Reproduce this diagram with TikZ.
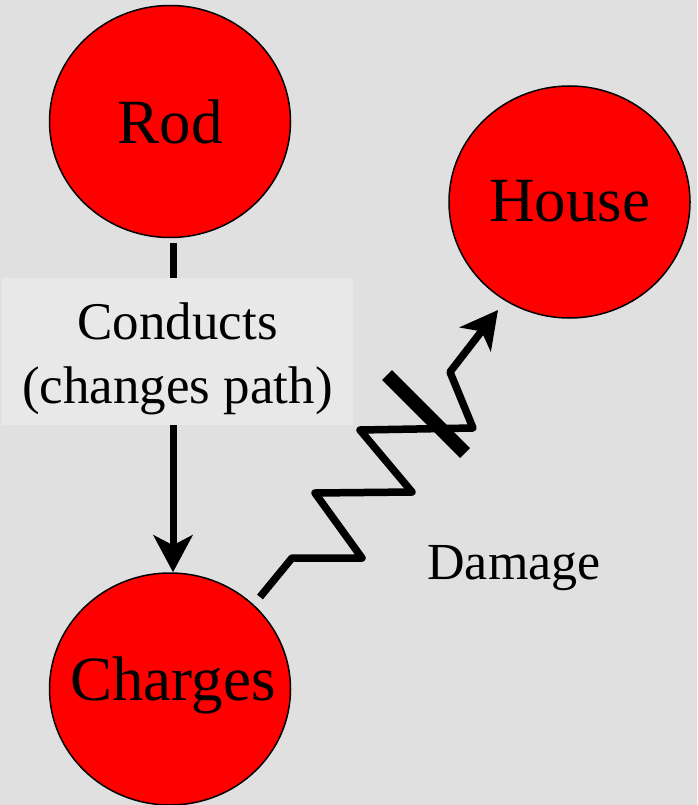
\documentclass[tikz,border=0pt]{standalone}
\usepackage{fontspec}
\setmainfont{Liberation Serif}
\usetikzlibrary{shapes.geometric,arrows.meta}
\definecolor{bgc}{RGB}{224,224,224}
\definecolor{boxc}{RGB}{232,232,232}
\begin{document}
\begin{tikzpicture}[x=1pt,y=-1pt,
  circ/.style={ellipse,draw=black,line width=1.5pt,fill=red,minimum width=241pt,minimum height=232pt,inner sep=0pt},
  ctext/.style={inner sep=0pt,font=\fontsize{63}{72}\selectfont},
  tip/.style={-{Stealth[length=37pt,width=39pt,inset=10pt]}},
  conn/.style={line width=7pt,tip},
  zig/.style={line width=7.5pt,line join=round,tip},
  slash/.style={line width=14pt},
  lbl/.style={align=center,inner sep=0pt,font=\fontsize{53}{64}\selectfont},
  dmg/.style={inner sep=0pt,font=\fontsize{52}{60}\selectfont}]
\fill[bgc] (0,0) rectangle (697,805);
\useasboundingbox (0,0) rectangle (697,805);
\node[circ,label={[ctext]center:Rod}] (Rod) at (170,121.5) {};
\node[circ,label={[ctext,yshift=1pt]center:House}] (House) at (569.5,202) {};
\node[circ,label={[ctext,xshift=3pt,yshift=3.5pt]center:Charges}] (Charges) at (170,689) {};
% conducts edge
\draw[conn,shorten <=4.5pt] ([xshift=3pt]Rod.south) -- ([xshift=3pt]Charges.north);
\fill[boxc] (2,278) rectangle (353,425);
\node[lbl] (conducts) at (177.5,358.7) {Conducts\\(changes path)};
% damage edge (zigzag)
\coordinate (zs) at (260,597);
\coordinate (ze) at (498,310);
\draw[zig] (zs) -- (292,558) -- (362,558) -- (315,493) -- (412,492) -- (360,430) -- (473,428) -- (450,372) -- (ze);
\draw[slash] (387,375) -- (465,453);
\node[dmg] (damage) at (514,568) {Damage};
\end{tikzpicture}
\end{document}
